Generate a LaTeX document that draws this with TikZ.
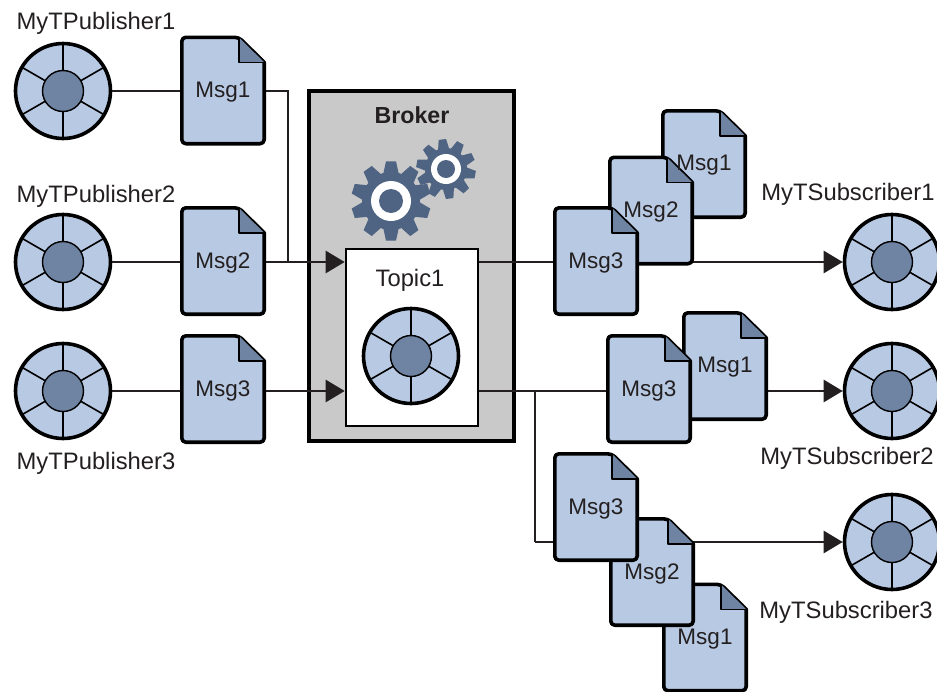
\documentclass[tikz,border=0pt]{standalone}
\usepackage{fontspec}
\setmainfont{Liberation Sans}
\usetikzlibrary{arrows.meta}
\definecolor{msgblue}{HTML}{B8C9E3}
\definecolor{folddark}{HTML}{6F84A3}
\definecolor{gearblue}{HTML}{4F6482}
\definecolor{inkblack}{HTML}{231F20}
\tikzset{
	docbase/.style={inner sep=0pt,minimum width=82pt,minimum height=106pt},
	doctext/.style={inner sep=0pt,yshift=-1.5pt,text=inkblack,font=\fontsize{22.5}{26}\selectfont},
	nametext/.style={inner sep=0pt,yshift=-1.5pt,text=inkblack,font=\fontsize{23.8}{27}\selectfont},
	wire/.style={line width=2.6pt,draw=inkblack},
	arrowwire/.style={wire,-{Triangle[length=19pt,width=22pt]}},
	topicdisc/.style={circle,draw=black,fill=msgblue,line width=3.6pt,minimum size=95pt,inner sep=0pt}
}
% message sheet with folded corner
\newcommand{\msgdoc}[2]{
	\node[docbase] (#1) at (#2) {};
	\draw[line width=3.6pt,line join=round,fill=msgblue,rounded corners=4pt]
		(#1.south west)--(#1.north west)--([xshift=57pt]#1.north west)[sharp corners]
		--([yshift=-25pt]#1.north east)[rounded corners=4pt]--(#1.south east)--cycle;
	\fill[folddark] ([xshift=57pt]#1.north west)--([yshift=-25pt]#1.north east)--([xshift=57pt,yshift=-25pt]#1.north west)--cycle;
	\draw[line width=1.6pt,line join=round] ([xshift=57pt]#1.north west)--([xshift=57pt,yshift=-25pt]#1.north west)--([yshift=-25pt]#1.north east);
}
% topic wheel
\newcommand{\wheel}[2]{
	\node[topicdisc] (#1) at (#2) {};
	\foreach \a in {30,90,...,330} \draw[line width=1.6pt] (#1.center)--++(\a:46pt);
	\fill[folddark,draw=black,line width=1.4pt] (#1.center) circle(20.5pt);
}
% gear wheel: teeth, outer radius, root radius, turn
\newcommand{\gearwheel}[4]{
	\fill[gearblue] ({#4-360/#1*.42}:#3) \foreach \t in {1,...,#1}{
		--({\t*360/#1-360/#1+#4-360/#1*.2}:#2)--({\t*360/#1-360/#1+#4+360/#1*.2}:#2)
		--({\t*360/#1-360/#1+#4+360/#1*.42}:#3)--({\t*360/#1+#4-360/#1*.42}:#3)
	} --cycle;
}
\begin{document}
\begin{tikzpicture}[x=1pt,y=-1pt]
	\useasboundingbox (0,0) rectangle (937,691);
	% broker
	\node[draw=black,fill=black!21,line width=3.6pt,minimum width=205pt,minimum height=350pt,inner sep=0pt] (broker) at (411.5,266) {};
	\node[inner sep=0pt,text=inkblack,font=\fontsize{23.2}{26}\selectfont\bfseries] (brokertext) at (412,115) {Broker};
	\begin{scope}[shift={(391,201)}]
		\gearwheel{10}{40pt}{29pt}{90}
		\fill[white] (0,0) circle(20pt);
		\fill[gearblue] (0,0) circle(12pt);
	\end{scope}
	\begin{scope}[shift={(446,169)}]
		\gearwheel{10}{30pt}{21pt}{97}
		\fill[white] (0,0) circle(15pt);
		\fill[gearblue] (0,0) circle(9pt);
	\end{scope}
	\node[draw=black,fill=white,line width=2.6pt,minimum width=132pt,minimum height=177pt,inner sep=0pt] (topic) at (412,337.5) {};
	\node[nametext] (topictext) at (410,279) {Topic1};
	\wheel{wheeltopic}{411,356}
	% end points
	\wheel{pub1}{63,91}
	\wheel{pub2}{63,262}
	\wheel{pub3}{63,391}
	\wheel{sub1}{892,262}
	\wheel{sub2}{892,391}
	\wheel{sub3}{892,542}
	\coordinate (in2) at (topic.west|-pub2);
	\coordinate (in3) at (topic.west|-pub3);
	\coordinate (out1) at (topic.east|-pub2);
	\coordinate (out2) at (topic.east|-sub2);
	\coordinate (bend1) at (288,91);
	\coordinate (bend2) at (288,262);
	\coordinate (fork) at (535,391);
	\coordinate (fork3) at (535,542);
	% connectors
	\draw[wire] (pub1)--(bend1)--(bend2);
	\draw[arrowwire] (pub2)--(in2);
	\draw[arrowwire] (pub3)--(in3);
	\draw[arrowwire] (out1)--(sub1);
	\draw[arrowwire] (out2)--(sub2);
	\draw[wire] (fork)--(fork3);
	\draw[arrowwire] (fork3)--(sub3);
	% messages
	\msgdoc{pmsg1}{223,90.5}
	\msgdoc{pmsg2}{223,261}
	\msgdoc{pmsg3}{223,389}
	\msgdoc{amsg1}{704,164}
	\msgdoc{amsg2}{651,210.5}
	\msgdoc{amsg3}{596,261}
	\msgdoc{bmsg1}{725,366}
	\msgdoc{bmsg3}{649,389}
	\msgdoc{cmsg1}{705,637.5}
	\msgdoc{cmsg2}{652,572}
	\msgdoc{cmsg3}{596,507}
	\node[doctext] at (pmsg1) {Msg1};
	\node[doctext] at (pmsg2) {Msg2};
	\node[doctext] at (pmsg3) {Msg3};
	\node[doctext] at (amsg1) {Msg1};
	\node[doctext] at (amsg2) {Msg2};
	\node[doctext] at (amsg3) {Msg3};
	\node[doctext] at (bmsg1) {Msg1};
	\node[doctext] at (bmsg3) {Msg3};
	\node[doctext] at (cmsg1) {Msg1};
	\node[doctext] at (cmsg2) {Msg2};
	\node[doctext] at (cmsg3) {Msg3};
	% names
	\node[nametext] (pubname1) at (96,22) {MyTPublisher1};
	\node[nametext] (pubname2) at (96,195) {MyTPublisher2};
	\node[nametext] (pubname3) at (96,462) {MyTPublisher3};
	\node[nametext] (subname1) at (848,193) {MyTSubscriber1};
	\node[nametext] (subname2) at (847,457) {MyTSubscriber2};
	\node[nametext] (subname3) at (846,611) {MyTSubscriber3};
\end{tikzpicture}
\end{document}
